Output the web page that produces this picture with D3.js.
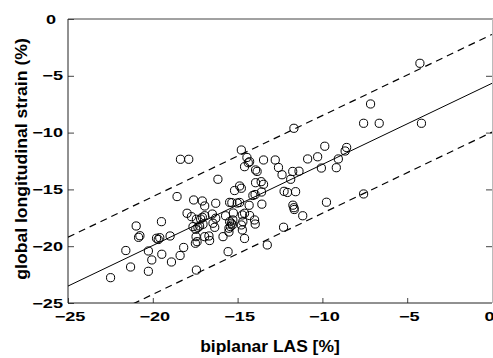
<!DOCTYPE html>
<html><head><meta charset="utf-8">
<script src="https://cdn.jsdelivr.net/npm/d3@7"></script>
<style>body{margin:0;background:#fff;} svg{display:block;}</style>
</head><body>
<svg id="chart" width="493" height="358"></svg>
<script>
// biplanar LAS [%]
const lasValues = [
-22.49,-21.59,-21.31,-20.98,-20.84,-20.76,-20.26,-20.26,-20.06,-19.78,
-19.68,-19.59,-19.49,-19.47,-18.90,-18.98,-18.39,-18.18,-18.57,-18.37,
-17.88,-17.98,-17.72,-17.59,-17.43,-17.63,-17.47,-17.34,-17.45,-17.39,
-17.49,-17.43,-17.08,-16.94,-17.08,-16.94,-17.24,-17.04,-16.94,-16.69,
-16.65,-16.49,-16.29,-16.45,-16.35,-16.29,-16.16,-15.86,-15.71,-15.56,
-15.47,-15.34,-15.02,-14.88,-15.47,-15.37,-15.31,-15.43,-15.51,-15.28,
-15.51,-15.18,-14.88,-14.78,-14.78,-14.45,-14.29,-14.37,-14.59,-13.94,
-13.85,-13.47,-13.97,-14.10,-13.94,-13.61,-13.47,-13.59,-14.32,-13.57,
-14.72,-14.59,-14.29,-14.00,-13.96,-14.78,-14.69,-14.72,-14.59,-13.25,
-12.78,-12.59,-12.38,-11.75,-11.38,-11.87,-11.68,-10.87,-10.28,-10.06,
-9.18,-9.06,-9.86,-8.57,-8.66,-12.26,-12.06,-11.58,-11.74,-11.68,
-11.66,-9.76,-11.16,-12.29,-7.16,-7.57,-6.65,-4.16,-4.25,-7.57,
-17.18,-15.25];
// global longitudinal strain (%)
const glsValues = [
-22.77,-20.38,-21.83,-18.22,-19.22,-19.08,-20.42,-22.21,-21.21,-19.30,
-19.41,-19.25,-17.84,-20.71,-21.39,-19.10,-20.82,-20.11,-15.63,-12.35,
-12.35,-17.10,-17.40,-15.93,-17.63,-18.28,-18.51,-18.34,-19.16,-19.60,
-19.74,-22.10,-16.02,-16.46,-17.46,-17.32,-18.22,-18.07,-19.16,-19.10,
-19.50,-17.17,-17.54,-17.98,-18.34,-16.22,-14.11,-19.16,-17.32,-20.48,
-16.14,-16.17,-16.20,-16.15,-17.84,-17.98,-18.13,-18.27,-18.42,-17.69,
-18.75,-15.10,-14.70,-14.90,-11.53,-12.19,-12.56,-12.65,-13.00,-13.29,
-13.42,-12.41,-15.45,-15.54,-14.41,-14.32,-14.55,-15.23,-16.40,-16.30,
-17.25,-17.10,-17.30,-17.69,-18.05,-18.13,-17.84,-18.57,-19.32,-19.89,
-12.41,-13.07,-13.71,-13.42,-13.40,-14.11,-9.62,-12.32,-12.13,-13.12,
-13.09,-12.32,-11.20,-11.31,-11.62,-15.17,-15.27,-15.20,-16.39,-16.61,
-16.77,-16.13,-17.32,-18.33,-7.48,-9.18,-9.18,-9.18,-3.90,-15.40,
-17.61,-17.08];
const xTicks = [-25, -20, -15, -10, -5, 0];
const yTicks = [0, -5, -10, -15, -20, -25];
const xDomain = [-25, 0];
const yDomain = [-25, 0];
const fitCoef = [-5.66, 0.714];   // intercept, slope
const limitOffset = [4.3, 0, -4.3];
const xLabel = "biplanar LAS [%]";
const yLabel = "global longitudinal strain (%)";

const FONT = "'Liberation Sans', Arial, Helvetica, sans-serif";
const svg = d3.select("#chart");
const m = {l: 68, t: 19, r: 492, b: 303};
const x = d3.scaleLinear().domain(xDomain).range([m.l, m.r]);
const y = d3.scaleLinear().domain(yDomain).range([m.b, m.t]);

svg.append("defs").append("clipPath").attr("id", "clip")
  .append("rect").attr("x", m.l).attr("y", m.t).attr("width", m.r - m.l).attr("height", m.b - m.t);

function stretch(sel, factor) {
  sel.each(function () {
    const len = this.getComputedTextLength();
    d3.select(this).attr("textLength", len * factor).attr("lengthAdjust", "spacingAndGlyphs");
  });
}

// axes
const gx = svg.append("g").attr("transform", `translate(0,${m.b})`)
  .call(d3.axisBottom(x).tickValues(xTicks).tickSizeInner(-5).tickSizeOuter(0).tickPadding(9).tickFormat(d3.format("d")));
const gy = svg.append("g").attr("transform", `translate(${m.l},0)`)
  .call(d3.axisLeft(y).tickValues(yTicks).tickSizeInner(-6).tickSizeOuter(0).tickPadding(5).tickFormat(d3.format("d")));
const gr = svg.append("g").attr("transform", `translate(${m.r},0)`)
  .call(d3.axisRight(y).tickValues(yTicks.slice(1, -1)).tickSizeInner(-6).tickSizeOuter(0).tickFormat(""));
[gx, gy, gr].forEach(g => {
  g.select(".domain").remove();
  g.selectAll(".tick line").attr("stroke", "#444");
  g.selectAll("text").attr("font-family", FONT).attr("font-weight", "bold")
    .attr("font-size", 12.5).attr("fill", "#000");
});
gx.selectAll(".tick text").attr("dx", 1.5).call(stretch, 1.45);
gx.selectAll(".tick text").filter(d => d === 0).attr("dx", -3);
gy.selectAll(".tick text").call(stretch, 1.45);
gy.selectAll(".tick text").filter(d => d === 0).attr("dx", -7);

// frame
svg.append("line").attr("x1", m.l).attr("x2", m.l).attr("y1", m.t).attr("y2", m.b).attr("stroke", "#222");
svg.append("line").attr("x1", m.l).attr("x2", m.r).attr("y1", m.b).attr("y2", m.b).attr("stroke", "#222");
svg.append("line").attr("x1", m.l).attr("x2", m.r + 1).attr("y1", m.t).attr("y2", m.t).attr("stroke", "#444");
svg.append("line").attr("x1", m.r + 0.5).attr("x2", m.r + 0.5).attr("y1", m.t).attr("y2", m.b).attr("stroke", "#bbb");

// regression and limits
const plot = svg.append("g").attr("clip-path", "url(#clip)");
limitOffset.forEach(off => {
  const f = v => fitCoef[0] + off + fitCoef[1] * v;
  plot.append("line")
    .attr("x1", x(xDomain[0])).attr("y1", y(f(xDomain[0])))
    .attr("x2", x(xDomain[1])).attr("y2", y(f(xDomain[1])))
    .attr("stroke", "#000")
    .attr("stroke-width", off === 0 ? 1 : 1.2)
    .attr("stroke-dasharray", off === 0 ? null : "7,5");
});

// points
svg.append("g").selectAll("circle").data(lasValues.map((v, i) => [v, glsValues[i]]))
  .join("circle")
  .attr("cx", d => x(d[0])).attr("cy", d => y(d[1])).attr("r", 4.1)
  .attr("fill", "none").attr("stroke", "#000").attr("stroke-width", 1);

// axis titles
svg.append("text").attr("x", 270).attr("y", 352).attr("text-anchor", "middle")
  .attr("font-family", FONT).attr("font-weight", "bold").attr("font-size", 16)
  .text(xLabel).call(stretch, 1.09);
svg.append("text").attr("transform", "translate(27,159) rotate(-90)").attr("text-anchor", "middle")
  .attr("font-family", FONT).attr("font-weight", "bold").attr("font-size", 16)
  .text(yLabel).call(stretch, 1.1);
</script>
</body></html>
